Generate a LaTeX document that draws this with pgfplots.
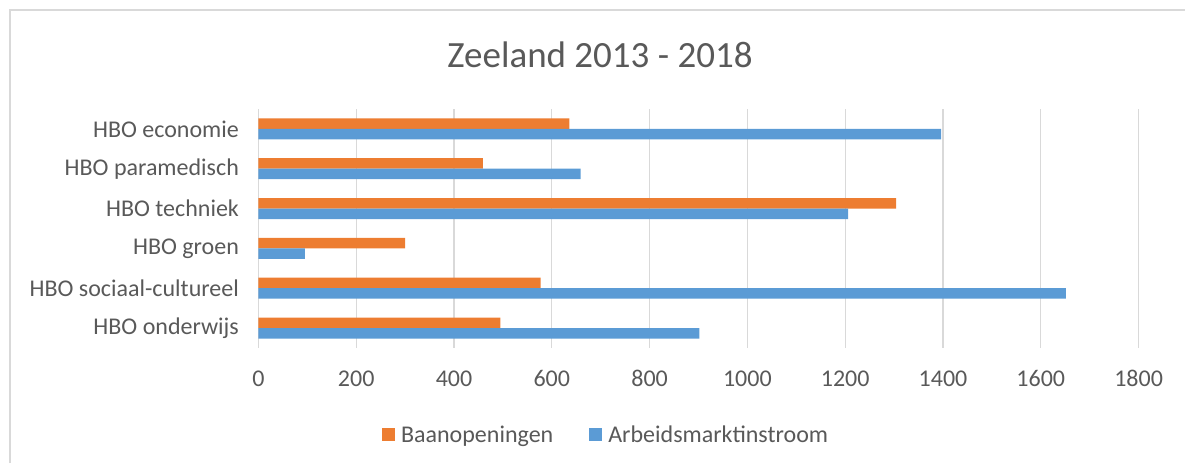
\documentclass[border=0pt]{standalone}
\usepackage{pgfplots}
\pgfplotsset{compat=1.18}
\usepackage{fontspec}
\setmainfont{Carlito}
\definecolor{orng}{HTML}{ED7D31}
\definecolor{blu}{HTML}{5B9BD5}
\definecolor{txt}{HTML}{595959}
\definecolor{grd}{HTML}{D9D9D9}
\begin{document}
\begin{tikzpicture}[x=1pt,y=1pt]
\path[use as bounding box] (0,0) rectangle (1185,463);
\draw[grd, line width=1.4pt] (10,0) -- (10,453) -- (1185,453);
\node[txt, font=\fontsize{37}{44}\selectfont] at (600,463-55) {Zeeland 2013 - 2018};
\begin{axis}[
  at={(258.4pt,354pt)}, anchor=north west,
  scale only axis, width=880.2pt, height=239pt,
  xbar, bar width=10.5pt,
  xmin=0, xmax=1800,
  ymin=-0.5, ymax=5.5,
  xtick={0,200,...,1800},
  ytick={0,1,2,3,4,5},
  yticklabels={HBO onderwijs,HBO sociaal-cultureel,HBO groen,HBO techniek,HBO paramedisch,HBO economie},
  axis line style={draw=none},
  major tick length=0pt,
  xmajorgrids, grid style={grd, line width=1.3pt},
  tick label style={txt, font=\fontsize{24}{28}\selectfont},
  /pgf/number format/assume math mode=true,
  /pgf/number format/1000 sep={},
  xticklabel style={yshift=-19pt},
  yticklabel style={xshift=-16pt},
  legend style={at={(0.395,-0.364)}, anchor=center, draw=none, legend columns=2,
    font=\fontsize{24}{28}\selectfont, text=txt,
    /tikz/every odd column/.append style={column sep=4pt},
    /tikz/every even column/.append style={column sep=34pt}},
  legend image code/.code={\fill[#1] (0pt,-6.5pt) rectangle (13pt,6.5pt);},
]
\addplot[fill=orng, draw=none, bar shift=5.25pt] coordinates {
(495,0) (577,1) (300,2) (1304,3) (459,4) (636,5)};
\addlegendentry{Baanopeningen}
\addplot[fill=blu, draw=none, bar shift=-5.25pt] coordinates {
(902,0) (1651,1) (95,2) (1206,3) (659,4) (1396,5)};
\addlegendentry{Arbeidsmarktinstroom}
\end{axis}
\end{tikzpicture}
\end{document}
